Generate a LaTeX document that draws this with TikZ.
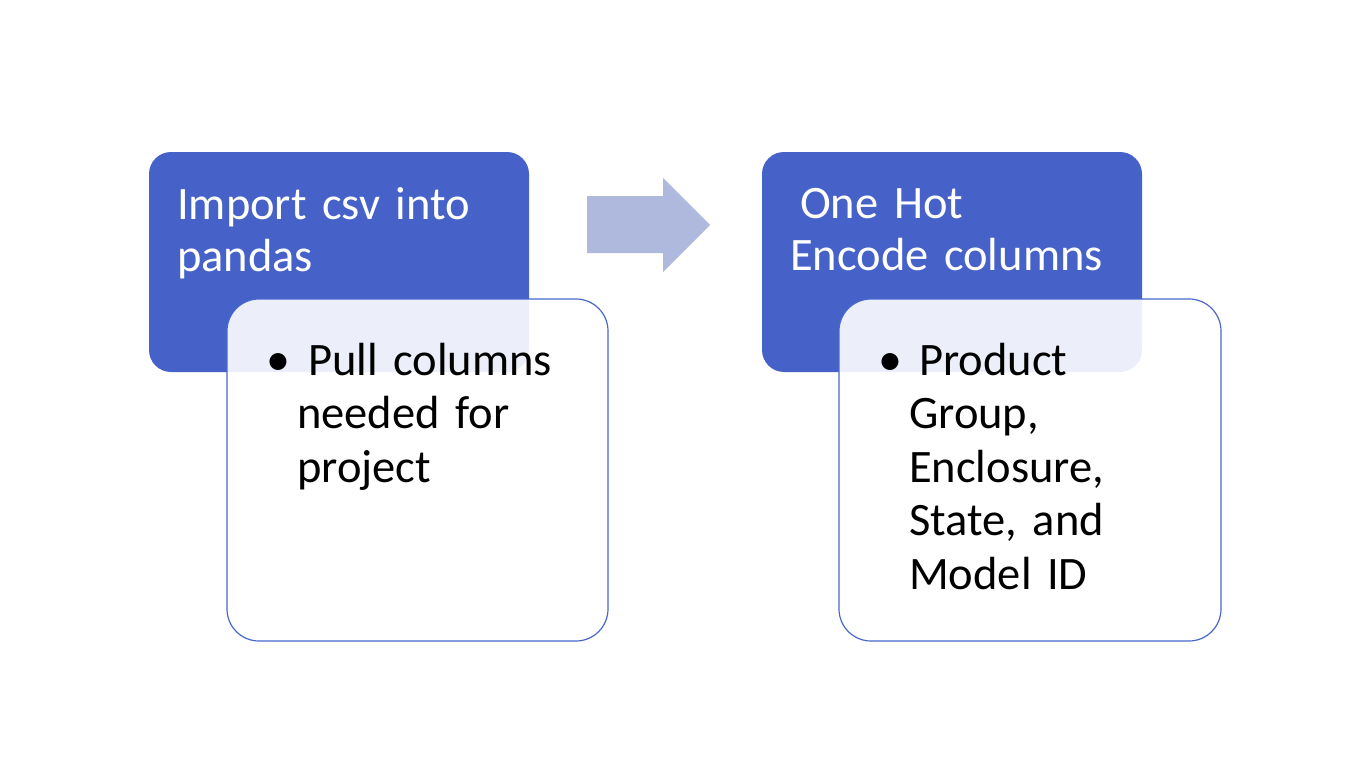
\documentclass[tikz,border=0pt]{standalone}
\usepackage{fontspec}
\setmainfont{Carlito}
\definecolor{hdblue}{RGB}{70,98,200}
\definecolor{edgeblue}{RGB}{72,104,204}
\definecolor{arrowblue}{RGB}{175,185,222}
\tikzset{
  headbox/.style={fill=hdblue, draw=none, rounded corners=22pt},
  bodybox/.style={fill=white, fill opacity=0.9, draw=edgeblue, draw opacity=1, line width=1.2pt, rounded corners=32pt},
  headtext/.style={anchor=base west, inner sep=0pt, text=white, text width=400pt, align=left,
    font=\fontsize{46.5}{52}\selectfont},
  bodytext/.style={anchor=base west, inner sep=0pt, text=black, text width=400pt, align=left,
    font=\fontsize{46.5}{53.5}\selectfont},
  bullettext/.style={anchor=base west, inner sep=0pt, text=black, font=\fontsize{48}{53.5}\selectfont},
}
\begin{document}
\begin{tikzpicture}[x=1pt,y=-1pt]
\path[use as bounding box, fill=white] (0,0) rectangle (1366,768);
% left group
\path[headbox] (149,152) rectangle (529,372);
\node[headtext] (h1) at (177,219) {Import csv into\\pandas};
\path[bodybox] (227,299) rectangle (608,641);
\node[bullettext] (b1) at (266,375) {•};
\node[bodytext] (t1) at (297,375) {\hspace*{11pt}Pull columns\\needed for\\project};
% arrow
\path[fill=arrowblue] (587,196) -- (663,196) -- (663,178) -- (710,225) -- (663,272) -- (663,253) -- (587,253) -- cycle;
% right group
\path[headbox] (762,152) rectangle (1142,372);
\node[headtext] (h2) at (790,218) {\hspace*{10pt}One Hot\\Encode columns};
\path[bodybox] (839,299) rectangle (1221,641);
\node[bullettext] (b2) at (878,375) {•};
\node[bodytext] (t2) at (909,375) {\hspace*{10pt}Product\\Group,\\Enclosure,\\State, and\\Model ID};
\end{tikzpicture}
\end{document}
